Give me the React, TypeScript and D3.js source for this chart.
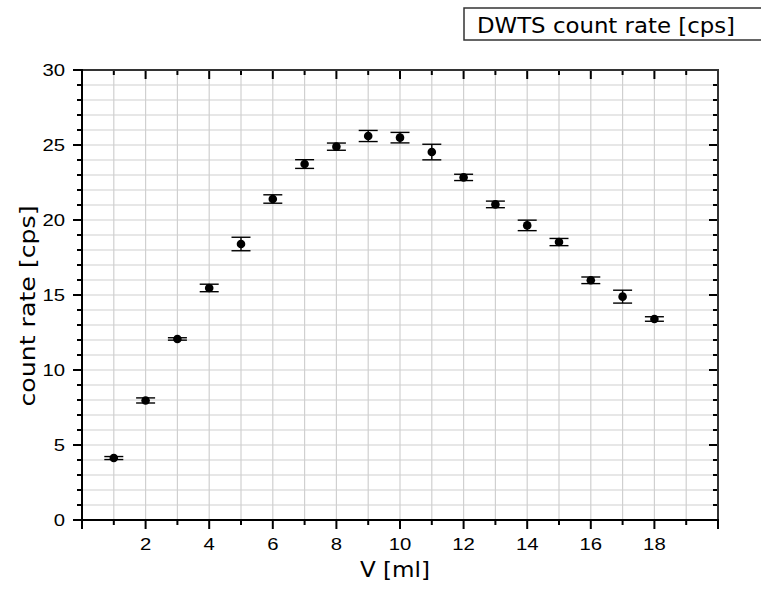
import React from "react";
import * as d3 from "d3";

const volumes = [1, 2, 3, 4, 5, 6, 7, 8, 9, 10, 11, 12, 13, 14, 15, 16, 17, 18];
const rates = [4.13, 7.97, 12.07, 15.47, 18.4, 21.4, 23.73, 24.89, 25.6, 25.49, 24.53, 22.84, 21.04, 19.64, 18.53, 15.98, 14.89, 13.4];
const errors = [0.1, 0.17, 0.08, 0.25, 0.45, 0.28, 0.29, 0.24, 0.37, 0.35, 0.52, 0.21, 0.22, 0.35, 0.24, 0.22, 0.43, 0.15];
const xTickLabels = [2, 4, 6, 8, 10, 12, 14, 16, 18];
const yTickLabels = [0, 5, 10, 15, 20, 25, 30];
const legendLabel = "DWTS count rate [cps]";
const xTitle = "V [ml]";
const yTitle = "count rate [cps]";

const W = 761;
const H = 593;
const M = { left: 82, right: 718, top: 70, bottom: 520 };

export default function App() {
  const x = d3.scaleLinear().domain([0, 20]).range([M.left, M.right]);
  const y = d3.scaleLinear().domain([0, 30]).range([M.bottom, M.top]);
  const xGrid = d3.range(1, 20);
  const yGrid = d3.range(1, 30);
  const xMinor = d3.range(1, 20);
  const yMinor = d3.range(0, 31);
  const tickFont = "'Liberation Sans', Arial, sans-serif";
  const titleFont = "'DejaVu Sans', Verdana, sans-serif";
  const cap = 9.5;
  const digitW = 11.3;

  return (
    <svg width={W} height={H} style={{ position: "absolute", left: 0, top: 0, background: "#fff" }}>
      <rect x={0} y={0} width={W} height={H} fill="#fff" />
      {/* grid */}
      {xGrid.map((v) => (
        <line key={"gx" + v} x1={x(v)} x2={x(v)} y1={M.top} y2={M.bottom} stroke="#d0d0d0" strokeWidth={1.2} />
      ))}
      {yGrid.map((v) => (
        <line key={"gy" + v} x1={M.left} x2={M.right} y1={y(v)} y2={y(v)} stroke="#d0d0d0" strokeWidth={1.2} />
      ))}
      {/* ticks bottom (outward) */}
      {xMinor.map((v) => (
        <line key={"tb" + v} x1={x(v)} x2={x(v)} y1={M.bottom} y2={M.bottom + (v % 2 === 0 ? 9 : 5)} stroke="#000" strokeWidth={2} />
      ))}
      {/* ticks top (inward) */}
      {xMinor.map((v) => (
        <line key={"tt" + v} x1={x(v)} x2={x(v)} y1={M.top} y2={M.top + (v % 2 === 0 ? 9 : 5)} stroke="#000" strokeWidth={2} />
      ))}
      {/* ticks left (outward) */}
      {yMinor.map((v) => (
        <line key={"tl" + v} x1={M.left - (v % 5 === 0 ? 9 : 5)} x2={M.left} y1={y(v)} y2={y(v)} stroke="#000" strokeWidth={2} />
      ))}
      {/* ticks right (inward) */}
      {yMinor.map((v) => (
        <line key={"tr" + v} x1={M.right - (v % 5 === 0 ? 9 : 5)} x2={M.right} y1={y(v)} y2={y(v)} stroke="#000" strokeWidth={2} />
      ))}
      {/* axes */}
      <line x1={M.left} x2={M.right + 1} y1={M.top} y2={M.top} stroke="#333" strokeWidth={2} />
      <line x1={M.right} x2={M.right} y1={M.top} y2={M.bottom} stroke="#333" strokeWidth={2} />
      <line x1={M.left} x2={M.right + 1} y1={M.bottom} y2={M.bottom} stroke="#000" strokeWidth={2} />
      <line x1={M.left} x2={M.left} y1={M.top - 1} y2={M.bottom + 9} stroke="#000" strokeWidth={2} />
      <line x1={M.right} x2={M.right} y1={M.bottom} y2={M.bottom + 9} stroke="#000" strokeWidth={2} />
      {/* tick labels */}
      {xTickLabels.map((v) => (
        <text key={"xl" + v} x={x(v)} y={550} textAnchor="middle" fontFamily={tickFont} fontSize={16.5} fill="#000"
          textLength={String(v).length * digitW} lengthAdjust="spacingAndGlyphs">
          {v}
        </text>
      ))}
      {yTickLabels.map((v) => (
        <text key={"yl" + v} x={65} y={y(v) + 6} textAnchor="end" fontFamily={tickFont} fontSize={16.5} fill="#000"
          textLength={String(v).length * digitW} lengthAdjust="spacingAndGlyphs">
          {v}
        </text>
      ))}
      {/* error bars */}
      {volumes.map((v, i) => (
        <g key={"e" + i} stroke="#000" strokeWidth={1.4}>
          <line x1={x(v)} x2={x(v)} y1={y(rates[i] - errors[i])} y2={y(rates[i] + errors[i])} />
          <line x1={x(v) - cap} x2={x(v) + cap} y1={y(rates[i] - errors[i])} y2={y(rates[i] - errors[i])} />
          <line x1={x(v) - cap} x2={x(v) + cap} y1={y(rates[i] + errors[i])} y2={y(rates[i] + errors[i])} />
        </g>
      ))}
      {/* points */}
      {volumes.map((v, i) => (
        <circle key={"p" + i} cx={x(v)} cy={y(rates[i])} r={4.3} fill="#000" />
      ))}
      {/* axis titles */}
      <text x={395} y={577} textAnchor="middle" fontFamily={titleFont} fontSize={20.5} fill="#000"
        textLength={70} lengthAdjust="spacingAndGlyphs">
        {xTitle}
      </text>
      <text transform={`translate(35,306) rotate(-90)`} textAnchor="middle" fontFamily={titleFont} fontSize={20.5} fill="#000"
        textLength={201} lengthAdjust="spacingAndGlyphs">
        {yTitle}
      </text>
      {/* legend */}
      <rect x={464} y={8} width={320} height={32} fill="#fff" stroke="#333" strokeWidth={1.5} />
      <text x={477} y={33} fontFamily={titleFont} fontSize={20.5} fill="#000"
        textLength={258} lengthAdjust="spacingAndGlyphs">
        {legendLabel}
      </text>
    </svg>
  );
}
